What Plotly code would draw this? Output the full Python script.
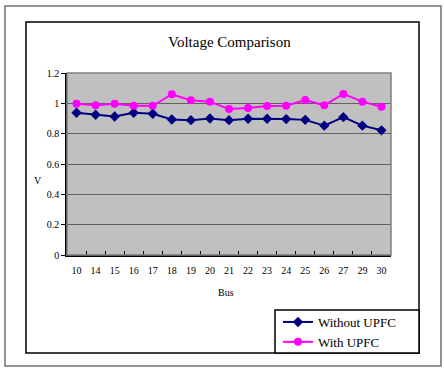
import plotly.graph_objects as go

buses = ["10", "14", "15", "16", "17", "18", "19", "20", "21", "22", "23", "24", "25", "26", "27", "29", "30"]
without_upfc = [0.938, 0.925, 0.913, 0.938, 0.931, 0.893, 0.889, 0.900, 0.889, 0.898, 0.898, 0.896, 0.891, 0.853, 0.909, 0.853, 0.822]
with_upfc = [0.998, 0.987, 0.998, 0.984, 0.984, 1.060, 1.020, 1.011, 0.962, 0.969, 0.982, 0.984, 1.022, 0.987, 1.062, 1.011, 0.978]
y_ticks = [0, 0.2, 0.4, 0.6, 0.8, 1, 1.2]

W, H = 444, 368
L, R, T, B = 67, 391, 73, 255  # plot area in pixels

def px(x):
    return (x - L) / (R - L)

def py(y):
    return (B - y) / (B - T)

font = "Liberation Serif, Times New Roman, serif"

fig = go.Figure()
fig.add_trace(go.Scatter(
    x=buses, y=without_upfc, name="Without UPFC", mode="lines+markers",
    line=dict(color="#000080", width=2),
    marker=dict(symbol="diamond", size=8, color="#000080"),
))
fig.add_trace(go.Scatter(
    x=buses, y=with_upfc, name="With UPFC", mode="lines+markers",
    line=dict(color="#FF00FF", width=2),
    marker=dict(symbol="circle", size=8, color="#FF00FF"),
))

shapes = [
    # outer frame
    dict(type="rect", xref="paper", yref="paper", x0=px(5), x1=px(441), y0=py(366), y1=py(6),
         line=dict(color="#707070", width=1.5), fillcolor="rgba(0,0,0,0)", layer="above"),
    # chart border
    dict(type="rect", xref="paper", yref="paper", x0=px(26), x1=px(419), y0=py(353), y1=py(22),
         line=dict(color="black", width=1.5), fillcolor="rgba(0,0,0,0)", layer="above"),
    # plot area border
    dict(type="rect", xref="paper", yref="paper", x0=0, x1=1, y0=0, y1=1,
         line=dict(color="#808080", width=1.5), fillcolor="rgba(0,0,0,0)", layer="above"),
    # legend box
    dict(type="rect", xref="paper", yref="paper", x0=px(275), x1=px(419), y0=py(353), y1=py(310),
         line=dict(color="black", width=1.5), fillcolor="white", layer="above"),
]

annotations = [
    dict(text="Voltage Comparison", xref="paper", yref="paper", x=px(229), y=py(42),
         xanchor="center", yanchor="middle",
         showarrow=False, font=dict(family=font, size=15, color="black")),
    dict(text="V", xref="paper", yref="paper", x=px(38), y=py(180),
         xanchor="center", yanchor="middle",
         showarrow=False, font=dict(family=font, size=10, color="black")),
    dict(text="Bus", xref="paper", yref="paper", x=px(226), y=py(292),
         xanchor="center", yanchor="middle",
         showarrow=False, font=dict(family=font, size=10, color="black")),
]

fig.update_layout(
    width=W, height=H,
    margin=dict(l=L, r=W - R, t=T, b=H - B, autoexpand=False),
    paper_bgcolor="white", plot_bgcolor="#C0C0C0",
    font=dict(family=font, size=10, color="black"),
    shapes=shapes, annotations=annotations,
    legend=dict(x=px(278), y=py(307), xanchor="left", yanchor="top",
                bgcolor="rgba(0,0,0,0)", borderwidth=0,
                font=dict(family=font, size=13, color="black"),
                tracegroupgap=0, itemwidth=30),
    showlegend=True,
)
fig.update_xaxes(type="category", range=[-0.5, len(buses) - 0.5],
                 showline=True, linecolor="black", linewidth=1.5,
                 ticks="inside", tickson="boundaries", ticklen=4, tickcolor="black",
                 showgrid=False, zeroline=False, tickangle=0, ticklabelstandoff=5,
                 tickfont=dict(family=font, size=10))
fig.update_yaxes(range=[0, 1.2], tickvals=y_ticks, ticktext=[str(v) for v in y_ticks],
                 showline=True, linecolor="black", linewidth=1.5,
                 ticks="outside", ticklen=4, tickcolor="black",
                 showgrid=True, gridcolor="#606060", gridwidth=1, zeroline=False,
                 tickfont=dict(family=font, size=10))

fig.write_html("out.html")
